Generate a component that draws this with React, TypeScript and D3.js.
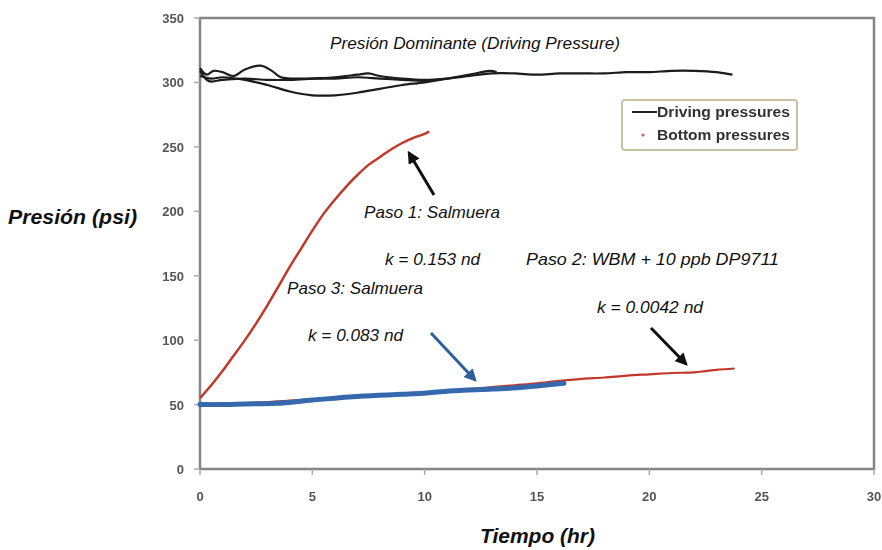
import React from "react";
import * as d3 from "d3";

const xTicks = [0, 5, 10, 15, 20, 25, 30];
const yTicks = [0, 50, 100, 150, 200, 250, 300, 350];

const drivingA: [number, number][] = [
  [0, 311], [0.3, 306], [0.6, 309], [1, 308], [1.5, 305], [2, 310], [2.7, 313], [3.2, 309],
  [3.6, 304], [5, 303], [6, 303], [7, 304], [8, 303], [9, 302], [10.2, 301],
];
const drivingB: [number, number][] = [
  [0, 305], [0.5, 303], [1, 304], [2, 302], [3, 298], [4, 293], [5, 290], [6, 290], [7, 292],
  [8, 295], [9, 298], [10, 300], [11, 303], [12, 306], [12.9, 309], [13.2, 308],
];
const drivingC: [number, number][] = [
  [0, 309], [0.4, 301], [1, 302], [2, 303], [3, 302], [4, 302], [5, 303], [6, 304], [7, 306],
  [7.5, 307], [8, 305], [9, 303], [10, 302], [11, 303], [12, 305], [13, 307], [14, 307],
  [15, 306], [16, 307], [17, 307], [18, 307], [19, 308], [20, 308], [21, 309], [22, 309],
  [23, 308], [23.7, 306],
];

const bottomStep1: [number, number][] = [
  [0, 55], [0.5, 65], [1, 76], [1.5, 88], [2, 100], [2.5, 113], [3, 127], [3.5, 142], [4, 157],
  [4.5, 171], [5, 185], [5.5, 198], [6, 209], [6.5, 219], [7, 228], [7.5, 236], [8, 242],
  [8.5, 248], [9, 253], [9.5, 257], [10, 260], [10.2, 262],
];
const bottomStep2: [number, number][] = [
  [0, 51], [2, 51], [4, 53], [6, 55], [8, 57.5], [10, 59.5], [12, 62], [13, 63.5], [14, 65],
  [15, 66.5], [16, 68.5], [17, 70], [18, 71], [19, 72.5], [20, 73.5], [21, 74.5], [22, 75],
  [22.5, 76], [23, 77], [23.8, 78],
];
const bottomStep3: [number, number][] = [
  [0, 50], [1, 50], [2, 50.5], [3.4, 51], [5, 53.5], [7.1, 56.5], [9, 58], [10.1, 59],
  [11.1, 60.5], [13, 62], [14.1, 63], [15, 64.5], [16.2, 66.5],
];

const legendItems = ["Driving pressures", "Bottom pressures"];

export default function App() {
  const W = 882, H = 550;
  const x = d3.scaleLinear().domain([0, 30]).range([200, 874]);
  const y = d3.scaleLinear().domain([0, 350]).range([469, 18]);
  const line = d3.line<[number, number]>().x(d => x(d[0])).y(d => y(d[1])).curve(d3.curveCatmullRom.alpha(0.5));

  const font = "Liberation Sans, Arial, sans-serif";
  const italic = { fontFamily: font, fontStyle: "italic", fontSize: 16.5, fill: "#111" } as const;
  const tickStyle = { fontFamily: font, fontWeight: "bold", fontSize: 13, fill: "#555" } as const;
  const titleStyle = { fontFamily: font, fontStyle: "italic", fontWeight: "bold", fontSize: 21, fill: "#111" } as const;

  const notes: { t: string; x: number; y: number; w: number }[] = [
    { t: "Presión Dominante (Driving Pressure)", x: 330, y: 49, w: 290 },
    { t: "Paso 1: Salmuera", x: 364, y: 218, w: 136 },
    { t: "k = 0.153 nd", x: 385, y: 265, w: 95 },
    { t: "Paso 2: WBM + 10 ppb DP9711", x: 526, y: 265, w: 253 },
    { t: "Paso 3: Salmuera", x: 287, y: 294, w: 136 },
    { t: "k = 0.083 nd", x: 308, y: 341, w: 95 },
    { t: "k = 0.0042 nd", x: 597, y: 313, w: 106 },
  ];

  return (
    <svg width={W} height={H} style={{ position: "absolute", left: 0, top: 0, background: "#fff" }}>
      <defs>
        <marker id="ahBlack" viewBox="0 0 10 10" refX="8" refY="5" markerWidth="4.2" markerHeight="4.2" orient="auto">
          <path d="M0,0 L10,5 L0,10 z" fill="#111" />
        </marker>
        <marker id="ahBlue" viewBox="0 0 10 10" refX="8" refY="5" markerWidth="4.2" markerHeight="4.2" orient="auto">
          <path d="M0,0 L10,5 L0,10 z" fill="#2d5f9e" />
        </marker>
        <filter id="soft"><feGaussianBlur stdDeviation="0.45" /></filter>
        <filter id="soft2"><feGaussianBlur stdDeviation="0.35" /></filter>
      </defs>
      {/* frame */}
      <rect x={x(0)} y={y(350)} width={x(30) - x(0)} height={y(0) - y(350)} fill="none" stroke="#858585" strokeWidth={2.5} filter="url(#soft2)" />
      {yTicks.map(t => (
        <g key={"y" + t}>
          <line x1={x(0) - 6} x2={x(0)} y1={y(t)} y2={y(t)} stroke="#aaa" strokeWidth={1.5} />
          <text x={184} y={y(t) + 5} textAnchor="end" style={tickStyle} filter="url(#soft)">{t}</text>
        </g>
      ))}
      {xTicks.map(t => (
        <g key={"x" + t}>
          <line x1={x(t)} x2={x(t)} y1={y(0)} y2={y(0) + 6} stroke="#aaa" strokeWidth={1.5} />
          <text x={x(t)} y={501} textAnchor="middle" style={tickStyle} filter="url(#soft)">{t}</text>
        </g>
      ))}

      {/* driving pressures */}
      {[drivingA, drivingB, drivingC].map((s, i) => (
        <path key={"d" + i} d={line(s) || ""} fill="none" stroke="#1a1a1a" strokeWidth={2.2} filter="url(#soft2)" />
      ))}
      {/* bottom pressures */}
      <path d={line(bottomStep2) || ""} fill="none" stroke="#c0392b" strokeWidth={2.2} filter="url(#soft2)" />
      <path d={line(bottomStep3) || ""} fill="none" stroke="#3568ad" strokeWidth={5} strokeLinecap="round" filter="url(#soft2)" />
      <path d={line(bottomStep1) || ""} fill="none" stroke="#c0392b" strokeWidth={2.5} filter="url(#soft2)" />

      {/* arrows */}
      <line x1={434} y1={195} x2={409} y2={153} stroke="#111" strokeWidth={3} markerEnd="url(#ahBlack)" />
      <line x1={431} y1={333} x2={475} y2={380} stroke="#2d5f9e" strokeWidth={3} markerEnd="url(#ahBlue)" />
      <line x1={651} y1={328} x2={686} y2={364} stroke="#111" strokeWidth={3} markerEnd="url(#ahBlack)" />

      {/* annotations */}
      {notes.map(n => (
        <text key={n.t} x={n.x} y={n.y} textLength={n.w} lengthAdjust="spacingAndGlyphs" style={italic}>{n.t}</text>
      ))}

      {/* legend */}
      <rect x={622} y={100} width={175} height={50} rx={3} fill="#fff" stroke="#c9c2a2" strokeWidth={2} />
      <line x1={632} x2={657} y1={112} y2={112} stroke="#222" strokeWidth={2} />
      <circle cx={643} cy={135} r={1.6} fill="#d06060" />
      {legendItems.map((t, i) => (
        <text key={t} x={657} y={117 + i * 23} textLength={133} lengthAdjust="spacingAndGlyphs"
          style={{ fontFamily: font, fontWeight: "bold", fontSize: 14, fill: "#333" }} filter="url(#soft)">{t}</text>
      ))}

      {/* axis titles */}
      <text x={8} y={224} textLength={129} lengthAdjust="spacingAndGlyphs" style={titleStyle}>Presión (psi)</text>
      <text x={480} y={543} textLength={115} lengthAdjust="spacingAndGlyphs" style={titleStyle}>Tiempo (hr)</text>
    </svg>
  );
}
